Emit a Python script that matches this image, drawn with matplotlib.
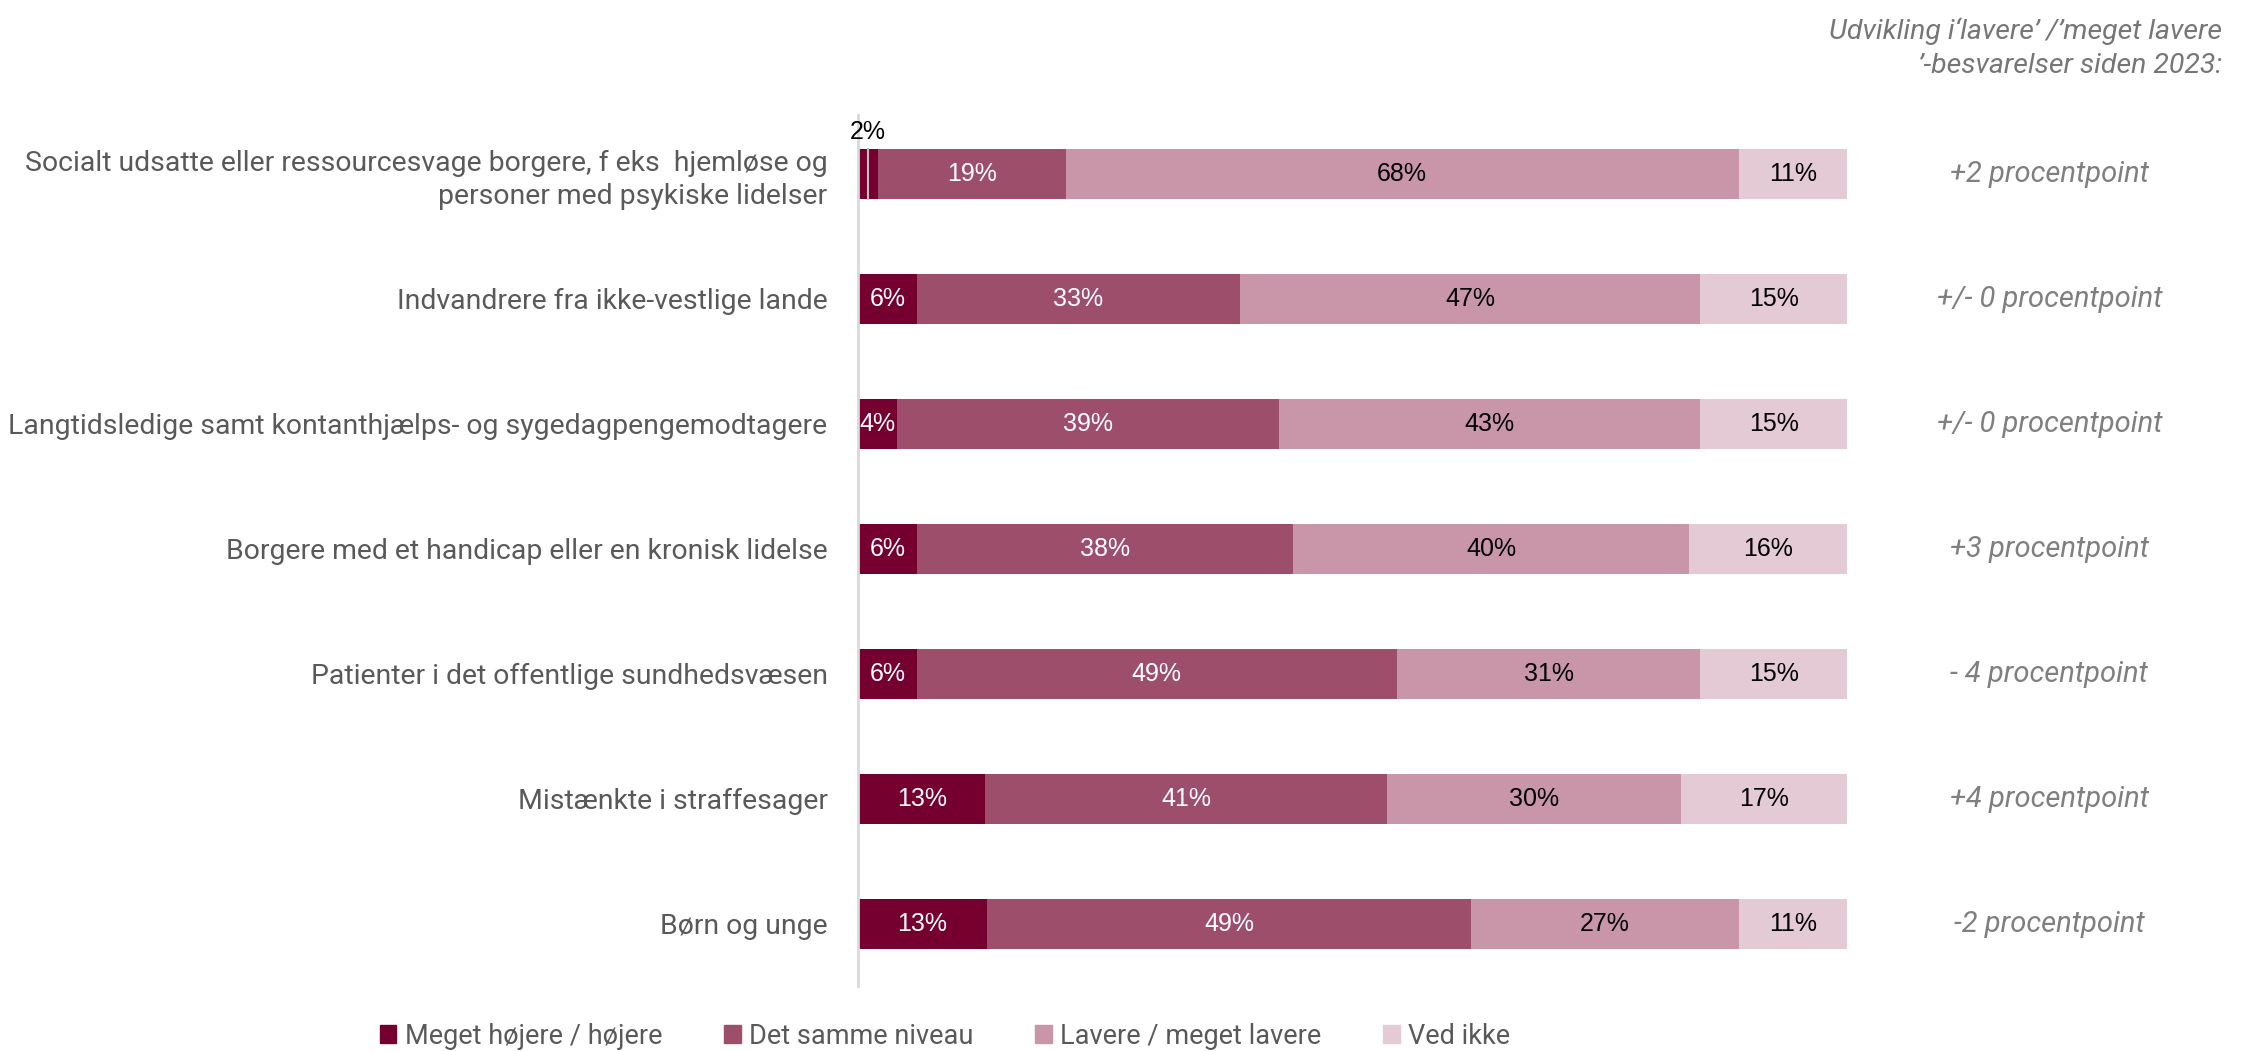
import numpy as np
import matplotlib.pyplot as plt
from matplotlib.patches import Patch

# data
kategorier = [
    'Socialt udsatte eller ressourcesvage borgere, f eks  hjemløse og\npersoner med psykiske lidelser',
    'Indvandrere fra ikke-vestlige lande',
    'Langtidsledige samt kontanthjælps- og sygedagpengemodtagere',
    'Borgere med et handicap eller en kronisk lidelse',
    'Patienter i det offentlige sundhedsvæsen',
    'Mistænkte i straffesager',
    'Børn og unge',
]
hoejere = [2, 6, 4, 6, 6, 13, 13]
samme = [19, 33, 39, 38, 49, 41, 49]
lavere = [68, 47, 43, 40, 31, 30, 27]
ved_ikke = [11, 15, 15, 16, 15, 17, 11]
udvikling = ['+2 procentpoint', '+/- 0 procentpoint', '+/- 0 procentpoint',
             '+3 procentpoint', '- 4 procentpoint', '+4 procentpoint',
             '-2 procentpoint']

serier = ['Meget højere / højere', 'Det samme niveau', 'Lavere / meget lavere', 'Ved ikke']
farver = ['#75002f', '#9c4e6b', '#c896a8', '#e4cad5']
tekstfarver = ['white', 'white', 'black', 'black']

plt.rcParams['font.family'] = ['Roboto', 'DejaVu Sans']
grey = '#595959'

vals = np.array([hoejere, samme, lavere, ved_ikke], dtype=float)
andel = vals / vals.sum(axis=0) * 100  # bars fill full width

fig = plt.figure(figsize=(22.64, 10.51), dpi=100)
ax = fig.add_axes([0.379, 0.0618, 0.437, 0.8288])

y = np.arange(len(kategorier))
left = np.zeros(len(kategorier))
for i in range(4):
    ax.barh(y, andel[i], left=left, height=0.40, color=farver[i], edgecolor='none')
    for j in range(len(kategorier)):
        cx = left[j] + andel[i][j] / 2
        txt = f'{int(vals[i][j])}%'
        if andel[i][j] < 3:
            # small segment: label above bar, thin leader inside
            ax.text(cx, y[j] - 0.24, txt, ha='center', va='bottom', fontsize=18,
                    color='black', family='Liberation Sans')
            ax.plot([cx, cx], [y[j] - 0.2, y[j] + 0.2], color='#bfbfbf', lw=1.5)
        else:
            ax.text(cx, y[j], txt, ha='center', va='center', fontsize=18,
                    color=tekstfarver[i], family='Liberation Sans')
    left += andel[i]

ax.set_xlim(0, 100)
ax.set_ylim(6.5, -0.47)
ax.set_yticks(y)
ax.set_yticklabels(kategorier, fontsize=20.4, color=grey, linespacing=1.32)
ax.tick_params(axis='y', length=0, pad=22)
ax.set_xticks([])
for s in ['top', 'right', 'bottom']:
    ax.spines[s].set_visible(False)
ax.spines['left'].set_color('#d9d9d9')
ax.spines['left'].set_linewidth(2)

# right-hand annotations
for j, t in enumerate(udvikling):
    ax.text(1.204, y[j], t, transform=ax.get_yaxis_transform(), ha='center', va='center',
            fontsize=21, style='italic', color='#7f7f7f')

fig.text(2222 / 2264, 1 - 17 / 1051, 'Udvikling i‘lavere’ /’meget lavere\n’-besvarelser siden 2023:',
         ha='right', va='top', fontsize=20.5, style='italic', color='#767676',
         multialignment='right', linespacing=1.4)

handles = [Patch(color=c) for c in farver]
fig.legend(handles, serier, loc='center', bbox_to_anchor=(945 / 2264, 1 - 1036 / 1051),
           ncol=4, frameon=False, fontsize=19.5, labelcolor=grey,
           handlelength=0.6, handleheight=0.6, handletextpad=0.3, columnspacing=2.3)

fig.savefig('out.png', dpi=100)
